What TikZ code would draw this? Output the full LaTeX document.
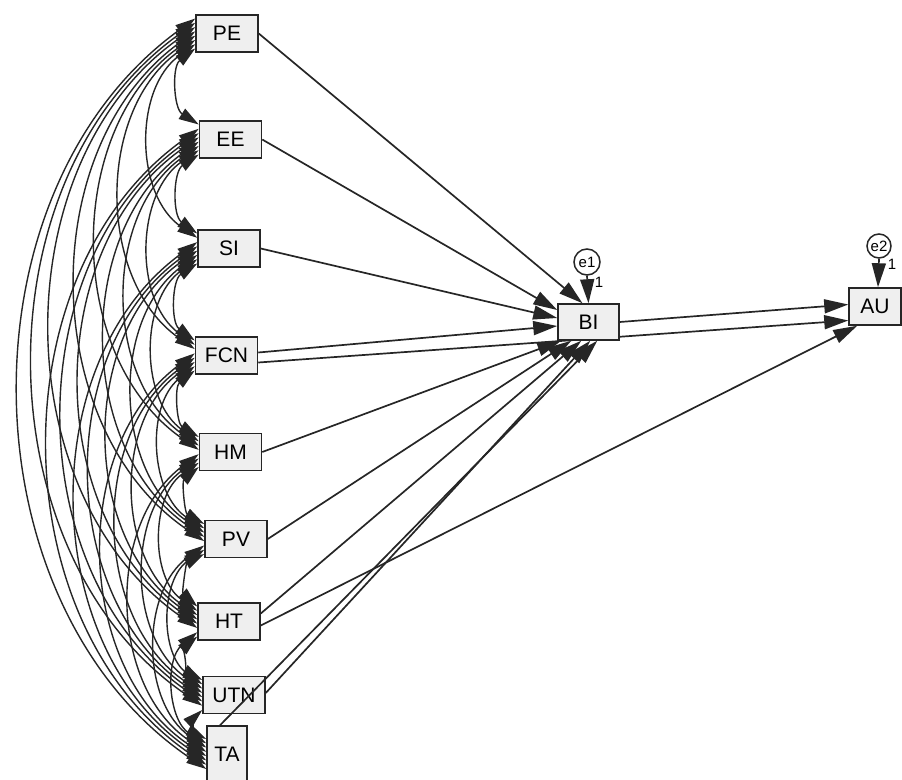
\documentclass[tikz,border=0pt]{standalone}
\usepackage{fontspec}
\setmainfont{Liberation Sans}
\usetikzlibrary{arrows.meta,calc}
\definecolor{ink}{HTML}{262626}
\definecolor{boxfill}{HTML}{EFEFEF}
\pgfdeclarelayer{bg}
\pgfsetlayers{bg,main}
\begin{document}
\begin{tikzpicture}[x=1pt,y=-1pt,
  var/.style={draw=ink, line width=1.5pt, fill=boxfill, minimum width=62pt,
    minimum height=37pt, inner sep=0pt, font=\fontsize{21}{24}\selectfont},
  err/.style={draw=ink, line width=1.5pt, fill=white, circle, minimum size=26pt,
    inner sep=0pt, font=\fontsize{15}{17}\selectfont},
  reg/.style={draw=ink, line width=1.7pt, -{Triangle[length=24pt,width=14pt]}},
  cov/.style={draw=ink, line width=1.4pt,
    {Triangle[length=20pt,width=12pt]}-{Triangle[length=20pt,width=12pt]}},
  wlab/.style={font=\fontsize{15}{17}\selectfont, inner sep=0pt}]
\useasboundingbox (0,0) rectangle (902,779);

% exogenous variables
\node[var, alias=n0] (PE)  at (227,33.5)  {PE};
\node[var, alias=n1] (EE)  at (230.5,139.5) {EE};
\node[var, alias=n2] (SI)  at (229,248.5) {SI};
\node[var, alias=n3] (FCN) at (226.5,355.5) {FCN};
\node[var, alias=n4] (HM)  at (230.5,452) {HM};
\node[var, alias=n5] (PV)  at (236,539) {PV};
\node[var, alias=n6] (HT)  at (229,621.5) {HT};
\node[var, alias=n7] (UTN) at (234,695) {UTN};
\node[var, alias=n8, minimum width=40pt, minimum height=56pt] (TA) at (227,754) {TA};

% endogenous variables
\node[var, minimum width=61pt, minimum height=36pt] (BI) at (588.5,322) {BI};
\node[var, minimum width=52pt] (AU) at (875,306.5) {AU};

% error terms
\node[err] (e1) at (587,262) {e1};
\node[err, minimum size=24pt] (e2) at (879,246) {e2};

% covariances
\foreach \i in {0,...,7}{
  \pgfmathtruncatemacro\ji{\i+1}
  \foreach \j in {\ji,...,8}{
    \pgfmathtruncatemacro\dd{\j-\i}
    \pgfmathsetmacro\ya{-15+(8-\dd)*30/7}
    \pgfmathsetmacro\yb{-15+(\dd-1)*30/7}
    \draw[cov] ($(n\i.west)+(0,\ya)$) to[bend right=55] ($(n\j.west)+(0,\yb)$);
  }
}

% regressions
\draw[reg] (PE.east) -- ($(BI.north)+(-6,0)$);
\draw[reg] (EE.east) -- ($(BI.west)+(0,-12)$);
\draw[reg] (SI.east) -- ($(BI.west)+(0,-4)$);
\draw[reg] ($(FCN.east)+(0,-3)$) -- ($(BI.west)+(0,4)$);
\begin{pgfonlayer}{bg}
\draw[reg] ($(FCN.east)+(0,7)$) -- ($(AU.west)+(0,14)$);
\end{pgfonlayer}
\draw[reg] (HM.east) -- ($(BI.south west)+(4,0)$);
\draw[reg] (PV.east) -- ($(BI.south west)+(14,0)$);
\draw[reg] ($(HT.east)+(0,-8)$) -- ($(BI.south west)+(24,0)$);
\draw[reg] ($(HT.east)+(0,4)$) -- ($(AU.south west)+(9,0)$);
\draw[reg] ($(UTN.east)+(0,-2)$) -- ($(BI.south west)+(33,0)$);
\draw[reg] ($(TA.north)+(-7,0)$) -- ($(BI.south west)+(40,0)$);
\draw[reg] (BI.east) -- ($(AU.west)+(0,-2)$);
\draw[reg] (e1.south) -- (BI.north);
\draw[reg] (e2.south) -- ($(AU.north)+(3,0)$);

% fixed weights
\node[wlab] (w1) at (599,282) {1};
\node[wlab] (w2) at (892,264) {1};
\end{tikzpicture}
\end{document}
